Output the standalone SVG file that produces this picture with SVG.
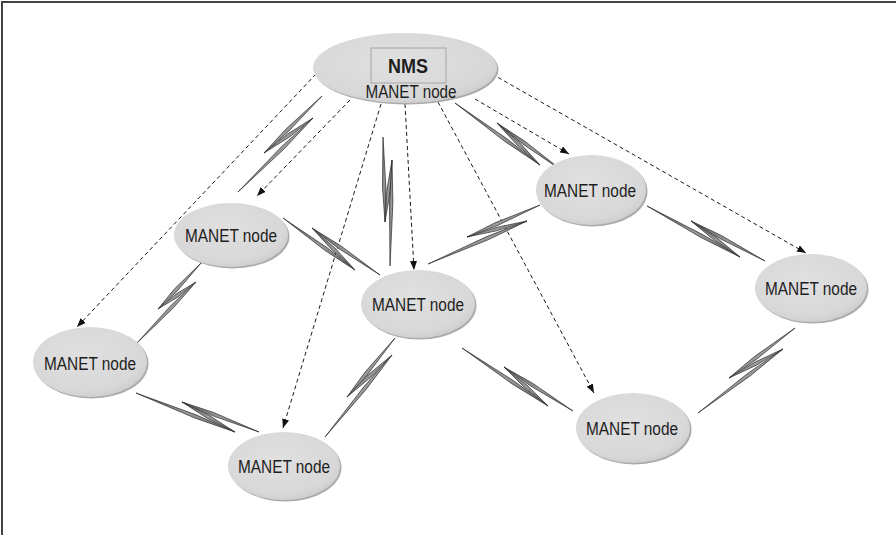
<svg xmlns="http://www.w3.org/2000/svg" width="896" height="535" viewBox="0 0 896 535">
  <style>
    .frame { stroke: #444; stroke-width: 2; fill: none; }
    .node-shadow { fill: #ababab; }
    .node-body { fill: url(#nodeFill); }
    .label { font-family: "Liberation Sans", Arial, sans-serif; font-size: 18px; fill: #1e1e1e; text-anchor: middle; }
    .title { font-family: "Liberation Sans", Arial, sans-serif; font-size: 20px; font-weight: bold; fill: #1e1e1e; text-anchor: middle; }
    .mgmt { fill: none; stroke: #1a1a1a; stroke-width: 1; stroke-dasharray: 4 3; marker-end: url(#arrow); }
    .bolt polygon { fill: url(#boltFill); stroke: #2a2a2a; stroke-width: 0.7; stroke-linejoin: miter; }
  </style>
  <defs>
    <radialGradient id="nodeFill" cx="0.45" cy="0.4" r="0.6">
      <stop offset="0" stop-color="#e0e0e0"/>
      <stop offset="0.85" stop-color="#d8d8d8"/>
      <stop offset="1" stop-color="#cfcfcf"/>
    </radialGradient>
    <linearGradient id="boltFill" x1="0" y1="0" x2="1" y2="1">
      <stop offset="0" stop-color="#5a5a5a"/>
      <stop offset="0.5" stop-color="#9a9a9a"/>
      <stop offset="1" stop-color="#6a6a6a"/>
    </linearGradient>
    <marker id="arrow" markerUnits="userSpaceOnUse" markerWidth="9" markerHeight="7" refX="9" refY="3.5" orient="auto">
      <path d="M0,0 L9,3.5 L0,7 Z" fill="#111"/>
    </marker>
  </defs>

  <rect width="896" height="535" fill="#ffffff"/>
  <path class="frame" d="M2,535 V2 H896"/>

  <!-- management (dashed) links from the NMS -->
  <g id="connectors">
    <g id="management-links">
      <line class="mgmt" x1="316" y1="74" x2="77" y2="327"/>
      <line class="mgmt" x1="350" y1="100" x2="257" y2="196"/>
      <line class="mgmt" x1="381" y1="104" x2="283" y2="428"/>
      <line class="mgmt" x1="405" y1="104" x2="414" y2="270"/>
      <line class="mgmt" x1="438" y1="102" x2="594" y2="393"/>
      <line class="mgmt" x1="475" y1="99" x2="569" y2="154"/>
      <line class="mgmt" x1="492" y1="74" x2="806" y2="253"/>
    </g>

    <!-- wireless links: each bolt is three tapered needles S-P1, P1-P2, P2-E -->
    <g id="wireless-links">
      <g class="bolt" id="link-nms-a">
        <polygon points="322,96 286,129 264,153 288.4,131.4"/>
        <polygon points="264,153 289.5,136.9 313,118 287.5,134.1"/>
        <polygon points="313,118 281.8,146.4 238,192 284.2,148.8"/>
      </g>
      <g class="bolt" id="link-nms-d">
        <polygon points="383,137 382.5,188 385,222 385.9,188"/>
        <polygon points="385,222 390.2,191.2 392,160 386.8,190.8"/>
        <polygon points="392,160 389.5,202.4 390,266 392.9,202.4"/>
      </g>
      <g class="bolt" id="link-nms-e">
        <polygon points="455,103 505,141.6 540,165 507,138.8"/>
        <polygon points="540,165 519.7,142.8 497,123 517.3,145.2"/>
        <polygon points="497,123 522.8,144 564,172 524.8,141.2"/>
      </g>
      <g class="bolt" id="link-a-d">
        <polygon points="283,218 325.2,250.6 355,270 327.2,247.8"/>
        <polygon points="355,270 334.7,247.8 312,228 332.3,250.2"/>
        <polygon points="312,228 338.2,248.2 380,275 340.2,245.4"/>
      </g>
      <g class="bolt" id="link-a-b">
        <polygon points="202,262 174.4,289 158,309 176.8,291.4"/>
        <polygon points="158,309 178,296.9 196,282 176,294.1"/>
        <polygon points="196,282 171.2,305.2 137,343 173.6,307.6"/>
      </g>
      <g class="bolt" id="link-b-c">
        <polygon points="136,393 194.8,418 235,432 196,414.8"/>
        <polygon points="235,432 209.3,415.5 182,402 207.7,418.5"/>
        <polygon points="182,402 212.2,415.6 259,432 213.4,412.4"/>
      </g>
      <g class="bolt" id="link-d-c">
        <polygon points="395,338 364.9,372.3 347,397 367.5,374.5"/>
        <polygon points="347,397 370.7,377.2 392,355 368.3,374.8"/>
        <polygon points="392,355 363.9,386.7 325,437 366.5,388.9"/>
      </g>
      <g class="bolt" id="link-d-g">
        <polygon points="462,348 512.6,384.2 548,406 514.6,381.4"/>
        <polygon points="548,406 527.1,385.2 504,367 524.9,387.8"/>
        <polygon points="504,367 530.7,386 573,411 532.5,383.2"/>
      </g>
      <g class="bolt" id="link-e-d">
        <polygon points="540,205 495.5,222.6 467,237 496.9,225.8"/>
        <polygon points="467,237 497.4,230.6 527,221 496.6,227.4"/>
        <polygon points="527,221 486.7,236.6 428,264 488.1,239.8"/>
      </g>
      <g class="bolt" id="link-e-f">
        <polygon points="647,206 702,238.1 740,257 703.6,235.1"/>
        <polygon points="740,257 716.5,237.6 691,221 714.5,240.4"/>
        <polygon points="691,221 719.8,238.5 765,261 721.4,235.5"/>
      </g>
      <g class="bolt" id="link-f-g">
        <polygon points="795,328 754.4,356.6 729,378 756.4,359.4"/>
        <polygon points="729,378 756.8,365 783,349 755.2,362"/>
        <polygon points="783,349 748,373.2 698,413 750,376"/>
      </g>
    </g>
  </g>

  <!-- nodes -->
  <g id="node-nms">
    <ellipse class="node-shadow" cx="406.5" cy="69.5" rx="92" ry="35"/>
    <ellipse class="node-body" cx="405" cy="68" rx="92" ry="35"/>
    <rect x="371" y="48" width="75" height="35" fill="none" stroke="#a5a5a5" stroke-width="1"/>
    <text class="title" x="408" y="73" textLength="40" lengthAdjust="spacingAndGlyphs">NMS</text>
    <text class="label" x="411" y="98" textLength="91" lengthAdjust="spacingAndGlyphs">MANET node</text>
  </g>

  <g id="node-a">
    <ellipse class="node-shadow" cx="232.5" cy="236.5" rx="57" ry="32"/>
    <ellipse class="node-body" cx="231" cy="235" rx="57" ry="32"/>
    <text class="label" x="231" y="242" textLength="92" lengthAdjust="spacingAndGlyphs">MANET node</text>
  </g>

  <g id="node-b">
    <ellipse class="node-shadow" cx="91.5" cy="363.5" rx="57" ry="35"/>
    <ellipse class="node-body" cx="90" cy="362" rx="57" ry="35"/>
    <text class="label" x="90" y="370" textLength="92" lengthAdjust="spacingAndGlyphs">MANET node</text>
  </g>

  <g id="node-c">
    <ellipse class="node-shadow" cx="285.5" cy="467.5" rx="56" ry="34"/>
    <ellipse class="node-body" cx="284" cy="466" rx="56" ry="34"/>
    <text class="label" x="284" y="473" textLength="92" lengthAdjust="spacingAndGlyphs">MANET node</text>
  </g>

  <g id="node-d">
    <ellipse class="node-shadow" cx="419.5" cy="305.5" rx="57" ry="34"/>
    <ellipse class="node-body" cx="418" cy="304" rx="57" ry="34"/>
    <text class="label" x="418" y="311" textLength="92" lengthAdjust="spacingAndGlyphs">MANET node</text>
  </g>

  <g id="node-e">
    <ellipse class="node-shadow" cx="592.5" cy="191.5" rx="55" ry="35"/>
    <ellipse class="node-body" cx="591" cy="190" rx="55" ry="35"/>
    <text class="label" x="590" y="197" textLength="92" lengthAdjust="spacingAndGlyphs">MANET node</text>
  </g>

  <g id="node-f">
    <ellipse class="node-shadow" cx="812.5" cy="289.5" rx="56" ry="34"/>
    <ellipse class="node-body" cx="811" cy="288" rx="56" ry="34"/>
    <text class="label" x="811" y="295" textLength="92" lengthAdjust="spacingAndGlyphs">MANET node</text>
  </g>

  <g id="node-g">
    <ellipse class="node-shadow" cx="634.5" cy="429.5" rx="57" ry="35"/>
    <ellipse class="node-body" cx="633" cy="428" rx="57" ry="35"/>
    <text class="label" x="632" y="435" textLength="92" lengthAdjust="spacingAndGlyphs">MANET node</text>
  </g>
</svg>
